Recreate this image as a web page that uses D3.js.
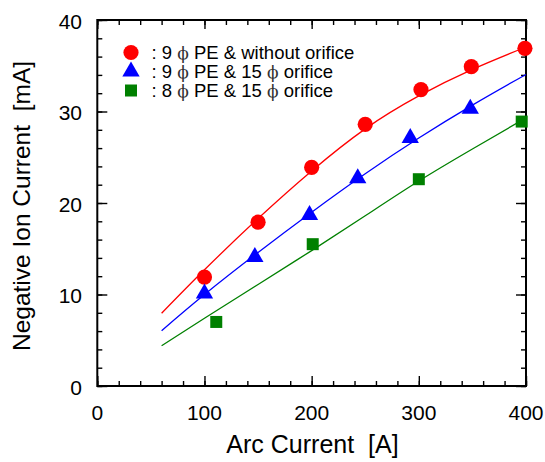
<!DOCTYPE html>
<html lang="en">
<head>
<meta charset="utf-8">
<title>Negative ion current vs arc current</title>
<script src="https://cdn.jsdelivr.net/npm/d3@7"></script>
<style>
  body { margin: 0; background: #fff; }
  text { font-family: "Liberation Sans", Arial, sans-serif; }
</style>
</head>
<body>
<script>
// measured points
var redArc = [100, 150, 200, 250, 302, 349, 399];
var redIon = [11.9, 17.9, 23.9, 28.6, 32.4, 34.9, 36.9];
var blueArc = [100, 147, 198, 243, 292, 348];
var blueIon = [10.1, 14.1, 18.7, 22.7, 27.1, 30.3];
var greenArc = [111, 201, 300, 396];
var greenIon = [7.0, 15.5, 22.6, 28.9];

// fitted curves
var fitArc = [60, 100, 150, 200, 250, 300, 350, 400];
var redFit = [7.95, 12.7, 18.3, 23.5, 28.1, 31.7, 34.6, 37.05];
var blueFit = [6.05, 10.0, 14.6, 19.0, 23.2, 27.1, 30.7, 34.05];
var greenFit = [4.4, 7.4, 11.1, 14.8, 18.6, 22.4, 25.9, 29.3];

var arcTicks = [0, 100, 200, 300, 400];
var ionTicks = [0, 10, 20, 30, 40];
var legendLabels = [
  ["9", "PE & without orifice"],
  ["9", "PE & 15 ", "orifice"],
  ["8", "PE & 15 ", "orifice"]
];

var w = 545, h = 462;
var padL = 97.3, padR = 526, padT = 20, padB = 386;

var svg = d3.select("body").append("svg")
  .attr("width", w).attr("height", h);

var x = d3.scaleLinear().domain([0, 400]).range([padL, padR]);
var y = d3.scaleLinear().domain([0, 40]).range([padB, padT]);

var minorX = d3.range(0, 401, 20);
var minorY = d3.range(0, 41, 2);

// ticks on all four sides, pointing in
function ticks(axis, pos, vals, size) {
  var g = svg.append("g").attr("transform", pos).call(axis.tickValues(vals).tickSize(size).tickFormat(""));
  g.select(".domain").remove();
  g.selectAll("line").attr("stroke", "#000").attr("stroke-width", 1.4);
}
ticks(d3.axisBottom(x), "translate(0," + padB + ")", minorX, -5);
ticks(d3.axisBottom(x), "translate(0," + padB + ")", arcTicks, -10);
ticks(d3.axisTop(x), "translate(0," + padT + ")", minorX, -5);
ticks(d3.axisTop(x), "translate(0," + padT + ")", arcTicks, -9);
ticks(d3.axisLeft(y), "translate(" + padL + ",0)", minorY, -5);
ticks(d3.axisLeft(y), "translate(" + padL + ",0)", ionTicks, -10);
ticks(d3.axisRight(y), "translate(" + padR + ",0)", minorY, -5);
ticks(d3.axisRight(y), "translate(" + padR + ",0)", ionTicks, -10);

svg.append("rect")
  .attr("x", padL).attr("y", padT)
  .attr("width", padR - padL).attr("height", padB - padT)
  .attr("fill", "none").attr("stroke", "#000").attr("stroke-width", 2);

// tick labels
svg.selectAll(".xl").data(arcTicks).enter().append("text")
  .attr("x", function(d) { return x(d); })
  .attr("y", 420)
  .attr("text-anchor", "middle")
  .attr("font-size", 21)
  .text(function(d) { return d; });

svg.selectAll(".yl").data(ionTicks).enter().append("text")
  .attr("x", 82)
  .attr("y", function(d) { return y(d) + 8.5; })
  .attr("text-anchor", "end")
  .attr("font-size", 21)
  .text(function(d) { return d; });

svg.append("text")
  .attr("x", 312.5).attr("y", 453)
  .attr("text-anchor", "middle").attr("font-size", 25)
  .attr("xml:space", "preserve")
  .text("Arc Current  [A]");

svg.append("text")
  .attr("transform", "translate(30,206) rotate(-90)")
  .attr("text-anchor", "middle").attr("font-size", 24.5)
  .attr("xml:space", "preserve")
  .text("Negative Ion Current  [mA]");

// fit lines
var line = d3.line()
  .x(function(d) { return x(d[0]); })
  .y(function(d) { return y(d[1]); })
  .curve(d3.curveNatural);

[[redFit, "#ff0000"], [blueFit, "#0000ff"], [greenFit, "#008000"]].forEach(function(s) {
  svg.append("path")
    .datum(d3.zip(fitArc, s[0]))
    .attr("d", line)
    .attr("fill", "none")
    .attr("stroke", s[1])
    .attr("stroke-width", 1.3);
});

// markers
var circ = d3.symbol().type(d3.symbolCircle).size(Math.PI * 7.6 * 7.6);
var tri = d3.symbol().type(d3.symbolTriangle).size(130);
var sq = d3.symbol().type(d3.symbolSquare).size(144);

var series = [
  [redArc, redIon, circ, "#ff0000"],
  [blueArc, blueIon, tri, "#0000ff"],
  [greenArc, greenIon, sq, "#008000"]
];

series.forEach(function(s) {
  svg.append("g").selectAll("path")
    .data(d3.zip(s[0], s[1]))
    .enter().append("path")
    .attr("transform", function(d) { return "translate(" + x(d[0]) + "," + y(d[1]) + ")"; })
    .attr("d", s[2])
    .attr("fill", s[3]);
});

// legend
var rowY = [52.5, 71.5, 90.5];
series.forEach(function(s, i) {
  svg.append("path")
    .attr("transform", "translate(131," + rowY[i] + ")")
    .attr("d", s[2])
    .attr("fill", s[3]);

  var t = svg.append("text")
    .attr("x", 151.5).attr("y", rowY[i] + 6.8)
    .attr("font-size", 18.5)
    .attr("xml:space", "preserve");
  var lab = legendLabels[i];
  t.append("tspan").text(": " + lab[0] + " ");
  t.append("tspan").attr("font-family", "DejaVu Serif").attr("font-size", 17).attr("fill", "#333").text("\u03D5");
  t.append("tspan").text(" " + lab[1]);
  if (lab.length > 2) {
    t.append("tspan").attr("font-family", "DejaVu Serif").attr("font-size", 17).attr("fill", "#333").text("\u03D5");
    t.append("tspan").text(" " + lab[2]);
  }
});
</script>
</body>
</html>
